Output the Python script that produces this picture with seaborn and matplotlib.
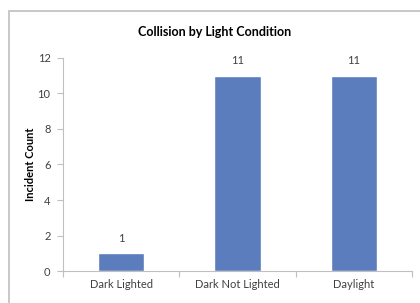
import matplotlib
matplotlib.use("Agg")
import matplotlib.pyplot as plt
import seaborn as sns
import pandas as pd
from matplotlib.patches import Rectangle

categories = ["Dark Lighted", "Dark Not Lighted", "Daylight"]
counts = [1, 11, 11]
yticks = [0, 2, 4, 6, 8, 10, 12]

sns.set_theme(style="white")
plt.rcParams['font.family'] = ['Lato', 'DejaVu Sans']

df = pd.DataFrame({"cat": categories, "count": counts})

fig = plt.figure(figsize=(4.2, 3.03), dpi=100)
ax = fig.add_axes([0.15, 0.1056, 0.831, 0.703])

sns.barplot(data=df, x="cat", y="count", color="#5B7CBD", width=0.4,
            saturation=1, ax=ax)

ax.set_xlim(-0.5, 2.5)
ax.set_ylim(0, 12)
ax.set_yticks(yticks)
ax.set_yticklabels([str(t) for t in yticks], fontsize=8, color="#404040")
ax.set_xticks(range(len(categories)))
ax.set_xticklabels(categories, fontsize=8, color="#404040")
ax.tick_params(axis='x', which='major', length=0, pad=6)
ax.set_xticks([-0.5, 0.5, 1.5, 2.5], minor=True)
ax.tick_params(axis='x', which='minor', length=4, color="#BFBFBF", width=0.8, bottom=True)
ax.tick_params(axis='y', length=4, color="#BFBFBF", width=0.8, left=True, pad=5)

for s in ["top", "right"]:
    ax.spines[s].set_visible(False)
for s in ["left", "bottom"]:
    ax.spines[s].set_color("#BFBFBF")
    ax.spines[s].set_linewidth(0.8)

ax.set_xlabel("")
ax.set_ylabel("Incident Count", fontsize=8, fontweight="bold", color="#000000", labelpad=1)

for i, v in enumerate(counts):
    ax.annotate(str(v), (i, v), xytext=(0, 7), textcoords="offset points",
                ha="center", va="bottom", fontsize=8, color="#404040")

fig.text(0.512, 0.895, "Collision by Light Condition", ha="center", va="center",
         fontsize=9, fontweight="bold", color="#000000")

fig.patches.append(Rectangle((9/420, -0.1), 1.2, 1 - 11/303 + 0.1,
                             transform=fig.transFigure, fill=False,
                             edgecolor="#BFBFBF", linewidth=1.2, zorder=0))

fig.savefig("out.png", dpi=100)
